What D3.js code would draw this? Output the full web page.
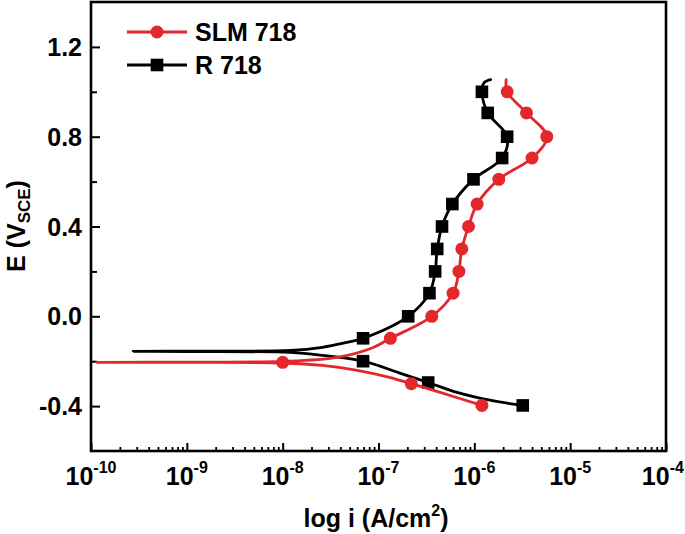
<!DOCTYPE html>
<html>
<head>
<meta charset="utf-8">
<script src="https://cdn.jsdelivr.net/npm/d3@7"></script>
<style>
  html, body { margin: 0; padding: 0; background: #fff; }
  svg { display: block; }
  text { font-family: "Liberation Sans", Arial, sans-serif; font-weight: bold; fill: #000; }
</style>
</head>
<body>
<svg id="chart" width="685" height="534"></svg>
<script>
// ---------- data ----------
const seriesNames = ["SLM 718", "R 718"];
const seriesColors = ["#e3282c", "#000000"];

// SLM 718 polarisation curve (cathodic end -> Ecorr -> anodic end)
const slmI = [1.2e-6, 4.4e-7, 2.2e-7, 1.3e-7, 6.0e-8, 2.6e-8, 1.0e-8, 1.0e-9, 1.15e-10, 1.0e-9, 1.0e-8, 3.7e-8, 8.7e-8, 1.33e-7, 3.6e-7, 6.0e-7, 6.9e-7, 7.4e-7, 8.7e-7, 1.07e-6, 1.8e-6, 4.0e-6, 5.7e-6, 3.5e-6, 2.2e-6, 2.15e-6];
const slmE = [-0.397, -0.339, -0.300, -0.272, -0.241, -0.219, -0.208, -0.205, -0.205, -0.204, -0.201, -0.183, -0.140, -0.098, 0.0, 0.103, 0.20, 0.30, 0.40, 0.50, 0.61, 0.705, 0.80, 0.906, 1.0, 1.054];
// SLM 718 symbols
const slmMarkI = [1.2e-6, 2.2e-7, 1.0e-8, 1.33e-7, 3.6e-7, 6.0e-7, 6.9e-7, 7.4e-7, 8.7e-7, 1.07e-6, 1.8e-6, 4.0e-6, 5.7e-6, 3.5e-6, 2.2e-6];
const slmMarkE = [-0.397, -0.300, -0.205, -0.098, 0.0, 0.103, 0.20, 0.30, 0.40, 0.50, 0.61, 0.705, 0.80, 0.906, 1.0];

// R 718 polarisation curve
const rI = [3.2e-6, 1.5e-6, 6.6e-7, 3.3e-7, 1.7e-7, 6.9e-8, 2.6e-8, 1.2e-8, 1.0e-9, 2.75e-10, 1.0e-9, 1.2e-8, 2.6e-8, 4.3e-8, 6.9e-8, 2.04e-7, 3.4e-7, 3.9e-7, 4.1e-7, 4.6e-7, 5.9e-7, 9.8e-7, 1.95e-6, 2.2e-6, 1.38e-6, 1.2e-6, 1.26e-6, 1.48e-6];
const rE = [-0.397, -0.375, -0.339, -0.295, -0.254, -0.200, -0.174, -0.161, -0.157, -0.156, -0.155, -0.152, -0.138, -0.120, -0.098, 0.0, 0.103, 0.20, 0.30, 0.40, 0.50, 0.61, 0.705, 0.80, 0.906, 1.0, 1.04, 1.054];
// R 718 symbols
const rMarkI = [3.2e-6, 3.3e-7, 6.9e-8, 6.9e-8, 2.04e-7, 3.4e-7, 3.9e-7, 4.1e-7, 4.6e-7, 5.9e-7, 9.8e-7, 1.95e-6, 2.2e-6, 1.38e-6, 1.2e-6];
const rMarkE = [-0.397, -0.295, -0.200, -0.098, 0.0, 0.103, 0.20, 0.30, 0.40, 0.50, 0.61, 0.705, 0.80, 0.906, 1.0];

// axes
const xDomain = [1e-10, 1e-4];
const yDomain = [-0.6, 1.4];
const xMajorTicks = [1e-10, 1e-9, 1e-8, 1e-7, 1e-6, 1e-5, 1e-4];
const xTickExponents = ["-10", "-9", "-8", "-7", "-6", "-5", "-4"];
const yMajorTicks = [-0.4, 0.0, 0.4, 0.8, 1.2];
const yMinorTicks = [-0.2, 0.2, 0.6, 1.0];
const xTitle = "log i (A/cm";
const yTitle = "E (V";

// ---------- layout ----------
const W = 685;
const svg = d3.select("#chart");
const L = 91, R = 666, T = 2, B = 451;

const x = d3.scaleLog().domain(xDomain).range([L, R]);
const y = d3.scaleLinear().domain(yDomain).range([B, T]);

// minor x ticks
const xMinor = [];
for (let e = -10; e < -4; e++) for (let k = 2; k <= 9; k++) xMinor.push(k * Math.pow(10, e));

// bottom axis: major & minor (inward)
svg.append("g").attr("transform", `translate(0,${B})`)
  .call(d3.axisBottom(x).tickValues(xMinor).tickSize(-4).tickFormat(""))
  .call(g => g.select(".domain").remove())
  .call(g => g.selectAll("line").attr("stroke-width", 1.8));
svg.append("g").attr("transform", `translate(0,${B})`)
  .call(d3.axisBottom(x).tickValues(xMajorTicks).tickSize(-8).tickFormat(""))
  .call(g => g.select(".domain").remove())
  .call(g => g.selectAll("line").attr("stroke-width", 2));

// x tick labels with superscripts
const xl = svg.append("g");
xMajorTicks.forEach((v, i) => {
  const t = xl.append("text").attr("x", x(v)).attr("y", 485)
    .attr("text-anchor", "middle").attr("font-size", 25);
  t.append("tspan").text("10");
  t.append("tspan").attr("font-size", 16).attr("dy", -12).text(xTickExponents[i]);
  // keep the label inside the picture
  const bb = t.node().getBBox();
  if (bb.x + bb.width > W - 1) t.attr("x", x(v) - (bb.x + bb.width - (W - 1)));
});

// left axis
svg.append("g").attr("transform", `translate(${L},0)`)
  .call(d3.axisLeft(y).tickValues(yMinorTicks).tickSize(-6).tickFormat(""))
  .call(g => g.select(".domain").remove())
  .call(g => g.selectAll("line").attr("stroke-width", 2));
svg.append("g").attr("transform", `translate(${L},0)`)
  .call(d3.axisLeft(y).tickValues(yMajorTicks).tickSize(-9).tickPadding(9)
    .tickFormat(d => d3.format(".1f")(d).replace("\u2212", "-")))
  .call(g => g.select(".domain").remove())
  .call(g => g.selectAll("line").attr("stroke-width", 2))
  .call(g => g.selectAll("text").attr("font-size", 25).attr("font-family", "Liberation Sans, Arial, sans-serif")
    .attr("font-weight", "bold").attr("fill", "#000").attr("dy", "0.34em"));

// frame
svg.append("rect").attr("x", L).attr("y", T).attr("width", R - L).attr("height", B - T)
  .attr("fill", "none").attr("stroke", "#000").attr("stroke-width", 2.6);

// axis titles
const xt = svg.append("text").attr("x", 376).attr("y", 527).attr("text-anchor", "middle").attr("font-size", 25);
xt.append("tspan").text(xTitle);
xt.append("tspan").attr("font-size", 16).attr("dy", -11).text("2");
xt.append("tspan").attr("dy", 11).text(")");

const yt = svg.append("text").attr("transform", "translate(25,226) rotate(-90)")
  .attr("text-anchor", "middle").attr("font-size", 25);
yt.append("tspan").text(yTitle);
yt.append("tspan").attr("font-size", 17).attr("dy", 5).text("SCE");
yt.append("tspan").attr("dy", -5).text(")");

// ---------- curves ----------
const line = d3.line().x(d => x(d[0])).y(d => y(d[1])).curve(d3.curveCatmullRom.alpha(0.5));
const series = [
  { I: slmI, E: slmE, mI: slmMarkI, mE: slmMarkE, color: seriesColors[0], sym: "circle" },
  { I: rI, E: rE, mI: rMarkI, mE: rMarkE, color: seriesColors[1], sym: "square" }
];

const plot = svg.append("g");
[series[1], series[0]].forEach(s => {
  const pts = s.I.map((v, i) => [v, s.E[i]]);
  plot.append("path").datum(pts).attr("d", line)
    .attr("fill", "none").attr("stroke", s.color).attr("stroke-width", 2.8)
    .attr("stroke-linejoin", "round").attr("stroke-linecap", "round");
  const mk = s.mI.map((v, i) => [v, s.mE[i]]);
  if (s.sym === "circle") {
    plot.selectAll(null).data(mk).enter().append("circle")
      .attr("cx", d => x(d[0])).attr("cy", d => y(d[1])).attr("r", 6.5).attr("fill", s.color);
  } else {
    plot.selectAll(null).data(mk).enter().append("rect")
      .attr("x", d => x(d[0]) - 6.3).attr("y", d => y(d[1]) - 6.3)
      .attr("width", 12.6).attr("height", 12.6).attr("fill", s.color);
  }
});

// ---------- legend ----------
const lg = svg.append("g");
const legY = [32, 65];
seriesNames.forEach((n, i) => {
  lg.append("line").attr("x1", 127).attr("x2", 187).attr("y1", legY[i]).attr("y2", legY[i])
    .attr("stroke", seriesColors[i]).attr("stroke-width", 2.8);
  if (i === 0) lg.append("circle").attr("cx", 157).attr("cy", legY[i]).attr("r", 6.5).attr("fill", seriesColors[i]);
  else lg.append("rect").attr("x", 157 - 6.3).attr("y", legY[i] - 6.3).attr("width", 12.6).attr("height", 12.6).attr("fill", seriesColors[i]);
  lg.append("text").attr("x", 195).attr("y", legY[i] + 9).attr("font-size", 25).text(n);
});
</script>
</body>
</html>
